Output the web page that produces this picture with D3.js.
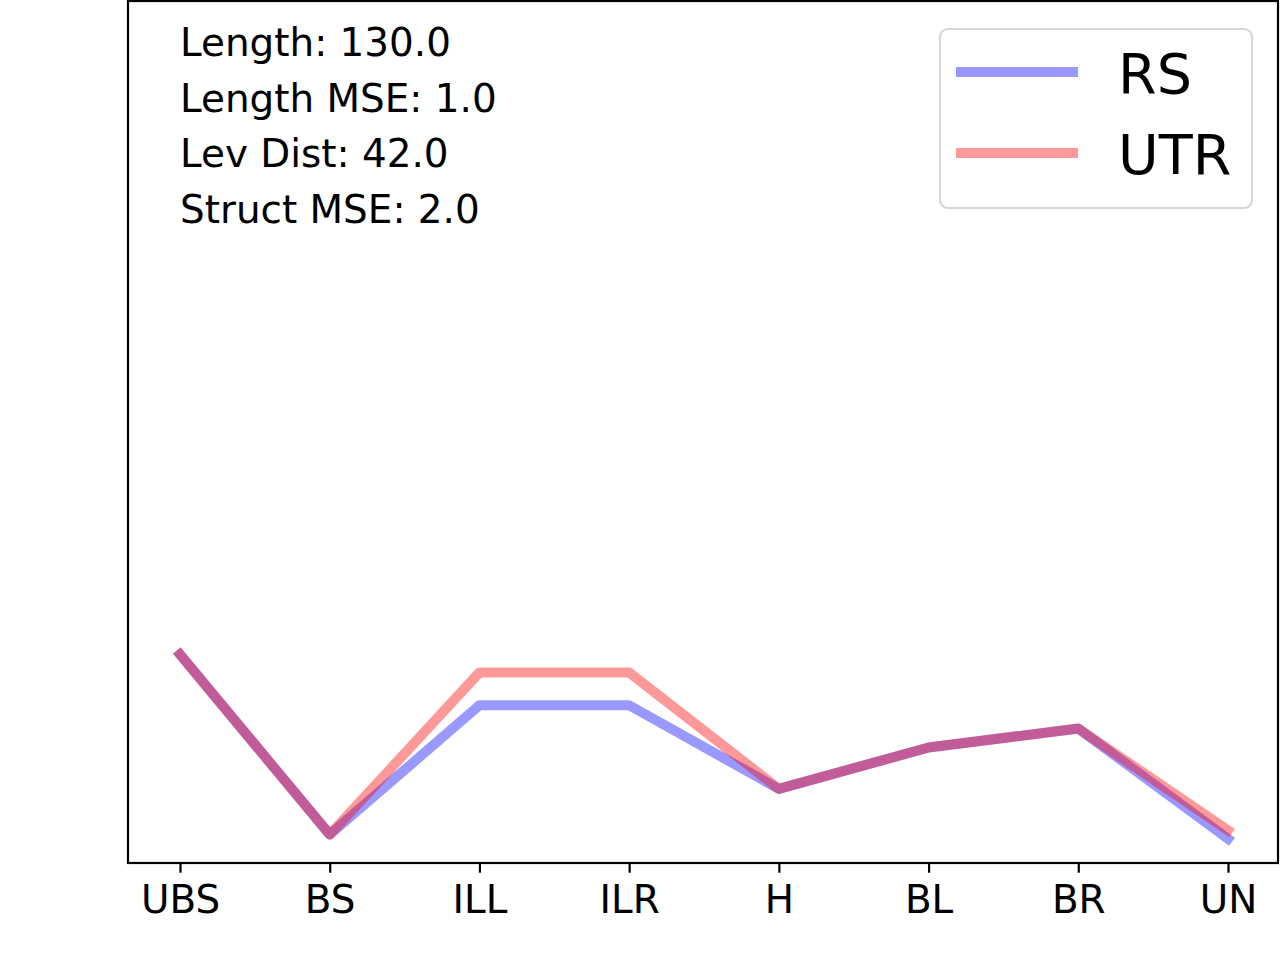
<!DOCTYPE html>
<html>
<head>
<meta charset="utf-8">
<script src="https://cdn.jsdelivr.net/npm/d3@7"></script>
<style>
  body { margin: 0; background: #fff; }
  svg { display: block; font-family: "DejaVu Sans", sans-serif; }
</style>
</head>
<body>
<script>
// data (y in arbitrary units, axis is unlabelled)
var categories = ["UBS", "BS", "ILL", "ILR", "H", "BL", "BR", "UN"];
var rsValues  = [0.242, 0.033, 0.183, 0.183, 0.086, 0.134, 0.156, 0.028];
var utrValues = [0.242, 0.033, 0.221, 0.221, 0.086, 0.134, 0.156, 0.038];
var seriesNames = ["RS", "UTR"];
var seriesColors = ["#0000ff", "#ff0000"];
var statLines = ["Length: 130.0", "Length MSE: 1.0", "Lev Dist: 42.0", "Struct MSE: 2.0"];

var width = 1280, height = 960;
var box = { left: 128, right: 1278, top: 1, bottom: 863 };

var svg = d3.select("body").append("svg")
  .attr("width", width)
  .attr("height", height);

// x: categories as evenly spaced points, y: linear with fixed limits
var x = d3.scalePoint().domain(categories).range([180, 1228]);
var y = d3.scaleLinear().domain([0, 1]).range([box.bottom, box.top]);

var line = d3.line()
  .x(function (d, i) { return x(categories[i]); })
  .y(function (d) { return y(d); });

// draw the two series, blue first then red on top
[rsValues, utrValues].forEach(function (vals, k) {
  svg.append("path")
    .datum(vals)
    .attr("fill", "none")
    .attr("stroke", seriesColors[k])
    .attr("stroke-opacity", 0.4)
    .attr("stroke-width", 10)
    .attr("stroke-linejoin", "round")
    .attr("stroke-linecap", "square")
    .attr("d", line);
});

// axes frame
svg.append("rect")
  .attr("x", box.left)
  .attr("y", box.top)
  .attr("width", box.right - box.left)
  .attr("height", box.bottom - box.top)
  .attr("fill", "none")
  .attr("stroke", "#000")
  .attr("stroke-width", 2.2);

// bottom axis: ticks + labels only
var xAxis = svg.append("g")
  .attr("transform", "translate(0," + box.bottom + ")")
  .call(d3.axisBottom(x).tickSize(9.7).tickPadding(12.5));
xAxis.select(".domain").remove();
xAxis.selectAll(".tick line").attr("stroke", "#000").attr("stroke-width", 2.2);
xAxis.selectAll(".tick text")
  .attr("fill", "#000")
  .attr("font-size", "38.9px")
  .attr("font-family", "DejaVu Sans, sans-serif");

// stats text in upper left
svg.append("g").selectAll("text")
  .data(statLines)
  .join("text")
  .attr("x", 180)
  .attr("y", function (d, i) { return 56 + i * 55.5; })
  .attr("font-size", "38.9px")
  .attr("fill", "#000")
  .text(function (d) { return d; });

// legend
var legend = svg.append("g");
legend.append("rect")
  .attr("x", 940)
  .attr("y", 29)
  .attr("width", 312)
  .attr("height", 179)
  .attr("rx", 8)
  .attr("fill", "#fff")
  .attr("fill-opacity", 0.8)
  .attr("stroke", "#d6d6d6")
  .attr("stroke-width", 2.2);

var legendRows = [72, 153];
seriesNames.forEach(function (name, k) {
  legend.append("line")
    .attr("x1", 956)
    .attr("x2", 1078)
    .attr("y1", legendRows[k])
    .attr("y2", legendRows[k])
    .attr("stroke", seriesColors[k])
    .attr("stroke-opacity", 0.4)
    .attr("stroke-width", 10);
  legend.append("text")
    .attr("x", 1118)
    .attr("y", legendRows[k] + 21)
    .attr("font-size", "55.6px")
    .attr("fill", "#000")
    .text(name);
});
</script>
</body>
</html>
